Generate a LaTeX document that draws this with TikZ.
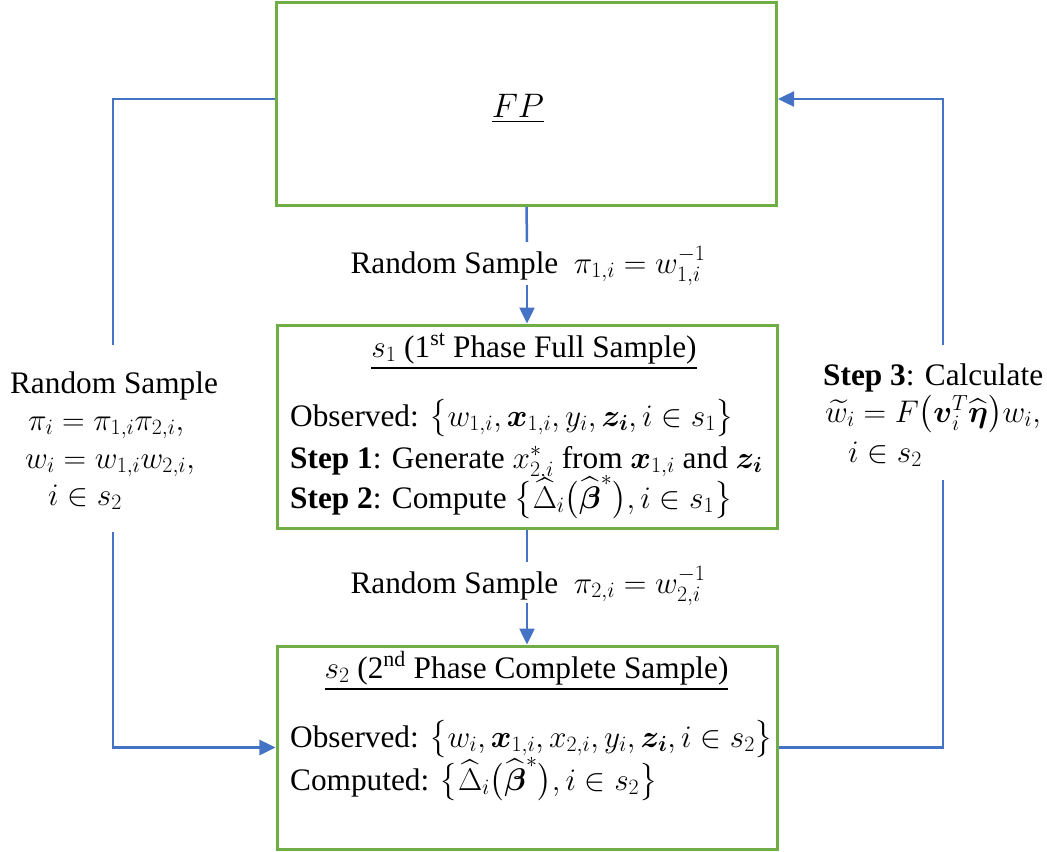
\RequirePackage{fix-cm}
\documentclass[tikz,border=0pt]{standalone}
\usepackage{amsmath,amssymb}
\usepackage{fontspec}
\setmainfont{Liberation Serif}
\usetikzlibrary{arrows.meta}
\definecolor{boxgreen}{HTML}{70AD47}
\definecolor{linkblue}{HTML}{4472C4}
\begin{document}
\begin{tikzpicture}[x=1bp,y=-1bp,
  every node/.style={font=\fontsize{31.3bp}{37bp}\selectfont, inner sep=0pt},
  panel/.style={draw=boxgreen, line width=3bp, minimum width=500bp, minimum height=203bp},
  link/.style={draw=linkblue, line width=2.5bp},
  tip/.style={-{Triangle[width=15bp,length=16bp]}},
  txt/.style={anchor=base west},
  ctxt/.style={anchor=base}]
\useasboundingbox (0,0) rectangle (1047,852);
% boxes
\node[panel] (fp) at (526.5,104) {};
\node[panel] (s1) at (527,426.5) {};
\node[panel] (s2) at (527,747.5) {};
% FP
\node[ctxt,font=\fontsize{34bp}{40bp}\selectfont] (fptxt) at (518,117) {\underline{$FP$}};
% s1 content
\node[ctxt] (s1title) at (534,357) {\underline{$s_1$ (1\textsuperscript{st} Phase Full Sample)}};
\node[txt] (s1obs) at (290,426) {Observed: $\bigl\{w_{1,i}, \boldsymbol{x}_{1,i}, y_i, \boldsymbol{z_i}, i \in s_1\bigr\}$};
\node[txt] (s1st1) at (290,468) {\textbf{Step 1}: Generate $x^{*}_{2,i}$ from $\boldsymbol{x}_{1,i}$ and $\boldsymbol{z_i}$};
\node[txt] (s1st2) at (290,508) {\textbf{Step 2}: Compute $\bigl\{\widehat{\Delta}_i\bigl(\widehat{\boldsymbol{\beta}}^{*}\bigr), i \in s_1\bigr\}$};
% s2 content
\node[ctxt] (s2title) at (526.5,678) {\underline{$s_2$ (2\textsuperscript{nd} Phase Complete Sample)}};
\node[txt] (s2obs) at (290,747) {Observed: $\bigl\{w_i, \boldsymbol{x}_{1,i}, x_{2,i}, y_i, \boldsymbol{z_i}, i \in s_2\bigr\}$};
\node[txt] (s2cmp) at (290,790) {Computed: $\bigl\{\widehat{\Delta}_i\bigl(\widehat{\boldsymbol{\beta}}^{*}\bigr), i \in s_2\bigr\}$};
% centre labels
\node[ctxt] (lab1) at (528,273) {Random Sample\ \ $\pi_{1,i} = w_{1,i}^{-1}$};
\node[ctxt] (lab2) at (528,593) {Random Sample\ \ $\pi_{2,i} = w_{2,i}^{-1}$};
% left label
\node[ctxt] (ll1) at (114,393) {Random Sample};
\node[txt] (ll2) at (28,430) {$\pi_i = \pi_{1,i}\pi_{2,i},$};
\node[txt] (ll3) at (25,468) {$w_i = w_{1,i}w_{2,i},$};
\node[txt] (ll4) at (48,505) {$i \in s_2$};
% right label
\node[txt] (rl1) at (823,385) {\textbf{Step 3}: Calculate};
\node[txt] (rl2) at (825,422) {$\widetilde{w}_i = F\bigl(\boldsymbol{v}_i^{T}\widehat{\boldsymbol{\eta}}\bigr)w_i,$};
\node[txt] (rl3) at (848,462) {$i \in s_2$};
% connector coordinates
\coordinate (c1a) at (527,242);
\coordinate (c1b) at (527,285);
\coordinate (c2a) at (527,562);
\coordinate (c2b) at (527,603);
\coordinate (la) at (113,345);
\coordinate (lb) at (113,532);
\coordinate (ra) at (943,345);
\coordinate (rb) at (943,480);
% connectors
\draw[link] (fp.south) -- (c1a);
\draw[link,tip] (c1b) -- (s1.north);
\draw[link] (s1.south) -- (c2a);
\draw[link,tip] (c2b) -- (s2.north);
\draw[link] ([yshift=5bp]fp.west) -| (la);
\draw[link,tip] (lb) |- (s2.west);
\draw[link] (s2.east) -| (rb);
\draw[link,tip] (ra) |- ([yshift=5bp]fp.east);
\end{tikzpicture}
\end{document}
